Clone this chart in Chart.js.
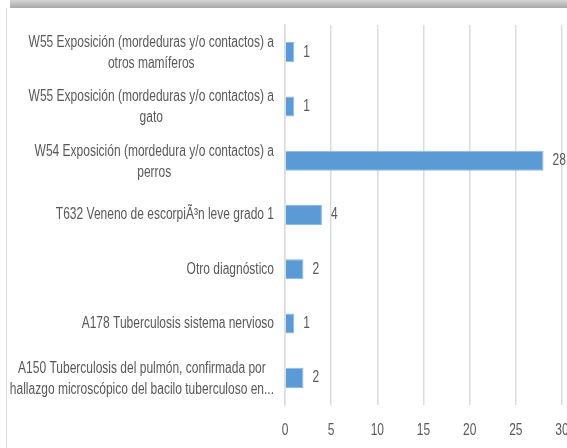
<!DOCTYPE html>
<html>
<head>
<meta charset="utf-8">
<script src="https://cdn.jsdelivr.net/npm/chart.js@4.4.1/dist/chart.umd.min.js"></script>
<style>
  html, body { margin: 0; padding: 0; background: #fff; overflow: hidden; }
  #frame { position: relative; width: 567px; height: 448px; overflow: hidden; }
  #band { position: absolute; left: 10px; top: 0; width: 557px; height: 8px;
          background: linear-gradient(#d4d4d4, #a9a9a9); }
  #edge { position: absolute; left: 6px; top: 8px; width: 1px; height: 440px; background: #d9d9d9; }
  #wrap { position: absolute; left: 0; top: 0; width: 600px; height: 448px; }
</style>
</head>
<body>
<div id="frame">
  <div id="wrap"><canvas id="chart-diag"></canvas></div>
  <div id="band"></div>
  <div id="edge"></div>
</div>
<script>
/* categories, top to bottom */
const categories = [
  ['W55 Exposición (mordeduras y/o contactos) a', 'otros mamíferos'],
  ['W55 Exposición (mordeduras y/o contactos) a', 'gato'],
  ['W54 Exposición (mordedura y/o contactos) a', 'perros'],
  ['T632 Veneno de escorpiÃ³n leve grado 1'],
  ['Otro diagnóstico'],
  ['A178 Tuberculosis sistema nervioso'],
  ['A150 Tuberculosis del pulmón, confirmada por', 'hallazgo microscópico del bacilo tuberculoso en...']
];
const counts = [1, 1, 28, 4, 2, 1, 2];
const xMin = 0;
const xMax = 30;
const xStep = 5;

const TEXT = '#595959';
const FONT = "'Liberation Sans Narrow', 'Liberation Sans', Arial, sans-serif";
const SQUEEZE = 0.75;

function squeezedText(ctx, txt, x, y) {
  ctx.save();
  ctx.translate(x, y);
  ctx.scale(SQUEEZE, 1);
  ctx.fillText(txt, 0, 0);
  ctx.restore();
}

// category labels: block right aligned, lines centred inside the block
const catLabels = {
  id: 'catLabels',
  afterDraw(chart) {
    const ctx = chart.ctx;
    const y = chart.scales.y;
    const right = chart.chartArea.left - 11;
    ctx.save();
    ctx.font = '16px ' + FONT;
    ctx.fillStyle = TEXT;
    ctx.textAlign = 'center';
    ctx.textBaseline = 'middle';
    const lineH = 21;
    categories.forEach((lines, i) => {
      const cy = y.getPixelForValue(i) + (lines.length > 1 ? 1 : 0);
      const widest = Math.max(...lines.map(l => ctx.measureText(l).width)) * SQUEEZE;
      const cx = right - widest / 2;
      lines.forEach((l, k) => {
        squeezedText(ctx, l, cx, cy + (k - (lines.length - 1) / 2) * lineH);
      });
    });
    ctx.restore();
  }
};

// x tick labels, drawn narrow like the category text
const xLabels = {
  id: 'xLabels',
  afterDraw(chart) {
    const ctx = chart.ctx;
    const x = chart.scales.x;
    ctx.save();
    ctx.font = '16px ' + FONT;
    ctx.fillStyle = TEXT;
    ctx.textAlign = 'center';
    ctx.textBaseline = 'middle';
    x.ticks.forEach(t => {
      squeezedText(ctx, String(t.value), x.getPixelForValue(t.value), chart.chartArea.bottom + 26);
    });
    ctx.restore();
  }
};

// value labels at bar ends
const valueLabels = {
  id: 'valueLabels',
  afterDatasetsDraw(chart) {
    const ctx = chart.ctx;
    const meta = chart.getDatasetMeta(0);
    ctx.save();
    ctx.font = '16px ' + FONT;
    ctx.fillStyle = TEXT;
    ctx.textAlign = 'left';
    ctx.textBaseline = 'middle';
    meta.data.forEach((bar, i) => {
      squeezedText(ctx, String(counts[i]), bar.x + 9, bar.y);
    });
    ctx.restore();
  }
};

new Chart(document.getElementById('chart-diag'), {
  type: 'bar',
  data: {
    labels: categories.map(c => c.join(' ')),
    datasets: [{
      data: counts,
      backgroundColor: '#5b9bd5',
      borderColor: '#8db9e6',
      borderWidth: 1,
      borderSkipped: 'left',
      barPercentage: 0.37,
      categoryPercentage: 1
    }]
  },
  options: {
    indexAxis: 'y',
    responsive: true,
    maintainAspectRatio: false,
    animation: false,
    layout: { padding: { top: 25, right: 38, bottom: 0, left: 0 } },
    plugins: {
      legend: { display: false },
      tooltip: { enabled: false }
    },
    scales: {
      x: {
        min: xMin,
        max: xMax,
        grid: { color: '#dcdcdc', lineWidth: 1.5, drawTicks: false },
        border: { display: false },
        ticks: { stepSize: xStep, display: false },
        afterFit: (scale) => { scale.height = 43; }
      },
      y: {
        grid: { display: false },
        border: { display: true, color: '#dcdcdc', width: 1.5 },
        ticks: { display: false },
        afterFit: (scale) => { scale.width = 285; }
      }
    }
  },
  plugins: [catLabels, xLabels, valueLabels]
});
</script>
</body>
</html>
